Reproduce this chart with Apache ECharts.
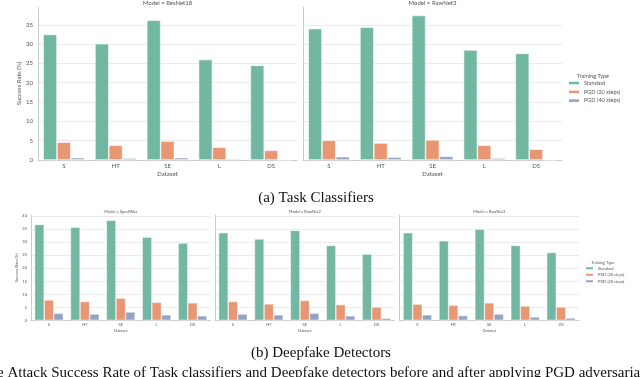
<!DOCTYPE html>
<html>
<head>
<meta charset="utf-8">
<script src="https://cdn.jsdelivr.net/npm/echarts@6/dist/echarts.min.js"></script>
<style>
html,body{margin:0;padding:0;background:#fff;}
#chart{width:640px;height:377px;}
</style>
</head>
<body>
<div id="chart"></div>
<script>
// ---- data ----
const categories = ['S', 'HT', 'SE', 'L', 'DS'];
const seriesNames = ['Standard', 'PGD (20 steps)', 'PGD (40 steps)'];
const yTicksTop = [0, 5, 10, 15, 20, 25, 30, 35];
const yTicksBottom = [0, 5, 10, 15, 20, 25, 30, 35, 40];

// (a) Task classifiers
const resnet18Standard = [32.5, 30.1, 36.2, 26.0, 24.5];
const resnet18Pgd20 = [4.6, 3.8, 4.9, 3.3, 2.5];
const resnet18Pgd40 = [0.6, 0.5, 0.6, 0.3, 0.05];
const taskRawnet3Standard = [34.0, 34.4, 37.4, 28.5, 27.6];
const taskRawnet3Pgd20 = [5.1, 4.4, 5.2, 3.8, 2.8];
const taskRawnet3Pgd40 = [0.85, 0.75, 0.95, 0.5, 0.05];

// (b) Deepfake detectors
const specrnetStandard = [36.8, 35.7, 38.4, 31.9, 29.6];
const specrnetPgd20 = [7.8, 7.2, 8.5, 6.9, 6.7];
const specrnetPgd40 = [2.7, 2.4, 3.2, 2.1, 1.7];
const rawnet2Standard = [33.6, 31.2, 34.5, 28.7, 25.4];
const rawnet2Pgd20 = [7.2, 6.3, 7.6, 6.0, 5.1];
const rawnet2Pgd40 = [2.4, 2.1, 2.7, 1.7, 0.8];
const dfRawnet3Standard = [33.6, 30.5, 34.9, 28.7, 26.0];
const dfRawnet3Pgd20 = [6.2, 5.8, 6.7, 5.5, 5.1];
const dfRawnet3Pgd40 = [2.1, 1.8, 2.4, 1.3, 0.9];

const panelTitles = ['Model = ResNet18', 'Model = RawNet3', 'Model = SpecRNet', 'Model = RawNet2', 'Model = RawNet3'];

// ---- layout / style ----
const colors = ['#72b7a1', '#e99675', '#95a3c3'];
const FONT = 'Lato';
const TXT = '#555';
const panels = [
  {left: 38, top: 7, width: 259, height: 153, max: 39.6, fs: 6, nameGap: 11, yGap: 12, labelMargin: 5, first: true, data: [resnet18Standard, resnet18Pgd20, resnet18Pgd40]},
  {left: 303, top: 7, width: 259, height: 153, max: 39.6, fs: 6, nameGap: 11, yGap: 12, labelMargin: 5, first: false, data: [taskRawnet3Standard, taskRawnet3Pgd20, taskRawnet3Pgd40]},
  {left: 31, top: 215, width: 179.5, height: 105.3, max: 40.4, fs: 4, nameGap: 8.5, yGap: 10, labelMargin: 4, first: true, data: [specrnetStandard, specrnetPgd20, specrnetPgd40]},
  {left: 215, top: 215, width: 179.5, height: 105.3, max: 40.4, fs: 4, nameGap: 8.5, yGap: 10, labelMargin: 4, first: false, data: [rawnet2Standard, rawnet2Pgd20, rawnet2Pgd40]},
  {left: 399.5, top: 215, width: 179.5, height: 105.3, max: 40.4, fs: 4, nameGap: 8.5, yGap: 10, labelMargin: 4, first: false, data: [dfRawnet3Standard, dfRawnet3Pgd20, dfRawnet3Pgd40]}
];

const grid = [], xAxis = [], yAxis = [], series = [], title = [];
panels.forEach((p, i) => {
  grid.push({left: p.left, top: p.top, width: p.width, height: p.height, containLabel: false});
  xAxis.push({
    type: 'category', gridIndex: i, data: categories,
    axisLine: {show: true, lineStyle: {color: '#cccccc', width: 1}},
    axisTick: {show: false},
    axisLabel: {fontSize: p.fs, color: TXT, fontFamily: FONT, margin: p.fs === 6 ? 3 : 2},
    name: 'Dataset', nameLocation: 'middle', nameGap: p.nameGap,
    nameTextStyle: {fontSize: p.fs, color: TXT, fontFamily: FONT}
  });
  yAxis.push({
    type: 'value', gridIndex: i, min: 0, max: p.max, interval: 5,
    axisLine: {show: true, lineStyle: {color: '#cccccc', width: 1}},
    axisTick: {show: false},
    splitLine: {show: true, showMaxLine: false, lineStyle: {color: '#ebebeb', width: 1}},
    axisLabel: {show: p.first, showMaxLabel: false, fontSize: p.fs, color: TXT, fontFamily: FONT, margin: p.labelMargin},
    name: p.first ? 'Success Rate (%)' : '', nameLocation: 'middle', nameGap: p.yGap, nameRotate: 90,
    nameTextStyle: {fontSize: p.fs, color: TXT, fontFamily: FONT}
  });
  p.data.forEach((d, k) => {
    series.push({
      type: 'bar', name: seriesNames[k], xAxisIndex: i, yAxisIndex: i, data: d,
      barGap: '0%', barCategoryGap: '20%',
      itemStyle: {color: colors[k], borderColor: '#ffffff', borderWidth: p.fs === 6 ? 0.6 : 0.5},
      emphasis: {disabled: true}
    });
  });
  title.push({
    text: panelTitles[i], left: p.left + p.width / 2, top: p.fs === 6 ? 0 : 209.7,
    textAlign: 'center', padding: 0,
    textStyle: {fontSize: p.fs, fontWeight: 'normal', color: TXT, fontFamily: FONT}
  });
});

// legend titles
title.push({text: 'Training Type', left: 593, top: 72.8, textAlign: 'center', padding: 0,
  textStyle: {fontSize: 5.5, fontWeight: 'normal', color: TXT, fontFamily: FONT}});
title.push({text: 'Training Type', left: 603, top: 260.5, textAlign: 'center', padding: 0,
  textStyle: {fontSize: 4, fontWeight: 'normal', color: TXT, fontFamily: FONT}});

// captions
const serif = 'Liberation Serif';
title.push({text: '(a) Task Classifiers', left: 316, top: 190.5, textAlign: 'center', padding: 0,
  textStyle: {fontSize: 15, fontWeight: 'normal', color: '#111', fontFamily: serif}});
title.push({text: '(b) Deepfake Detectors', left: 321, top: 345.5, textAlign: 'center', padding: 0,
  textStyle: {fontSize: 15, fontWeight: 'normal', color: '#111', fontFamily: serif}});
title.push({text: 'e Attack Success Rate of Task classifiers and Deepfake detectors before and after applying PGD adversarial training', left: -3, top: 365.5, padding: 0,
  textStyle: {fontSize: 15, fontWeight: 'normal', color: '#111', fontFamily: serif}});

const legend = [
  {data: seriesNames, orient: 'vertical', left: 569, top: 79.8, padding: 0, itemWidth: 10, itemHeight: 2.5, itemGap: 2.3,
   icon: 'rect', itemStyle: {borderWidth: 0}, textStyle: {fontSize: 5.5, color: TXT, fontFamily: FONT, lineHeight: 6.5}, selectedMode: false},
  {data: seriesNames, orient: 'vertical', left: 586, top: 266, padding: 0, itemWidth: 7, itemHeight: 2, itemGap: 2,
   icon: 'rect', itemStyle: {borderWidth: 0}, textStyle: {fontSize: 4, color: TXT, fontFamily: FONT, lineHeight: 4.5}, selectedMode: false}
];

const chart = echarts.init(document.getElementById('chart'), null, {renderer: 'canvas'});
chart.setOption({
  backgroundColor: '#ffffff',
  animation: false,
  title, grid, xAxis, yAxis, series, legend
});
</script>
</body>
</html>
